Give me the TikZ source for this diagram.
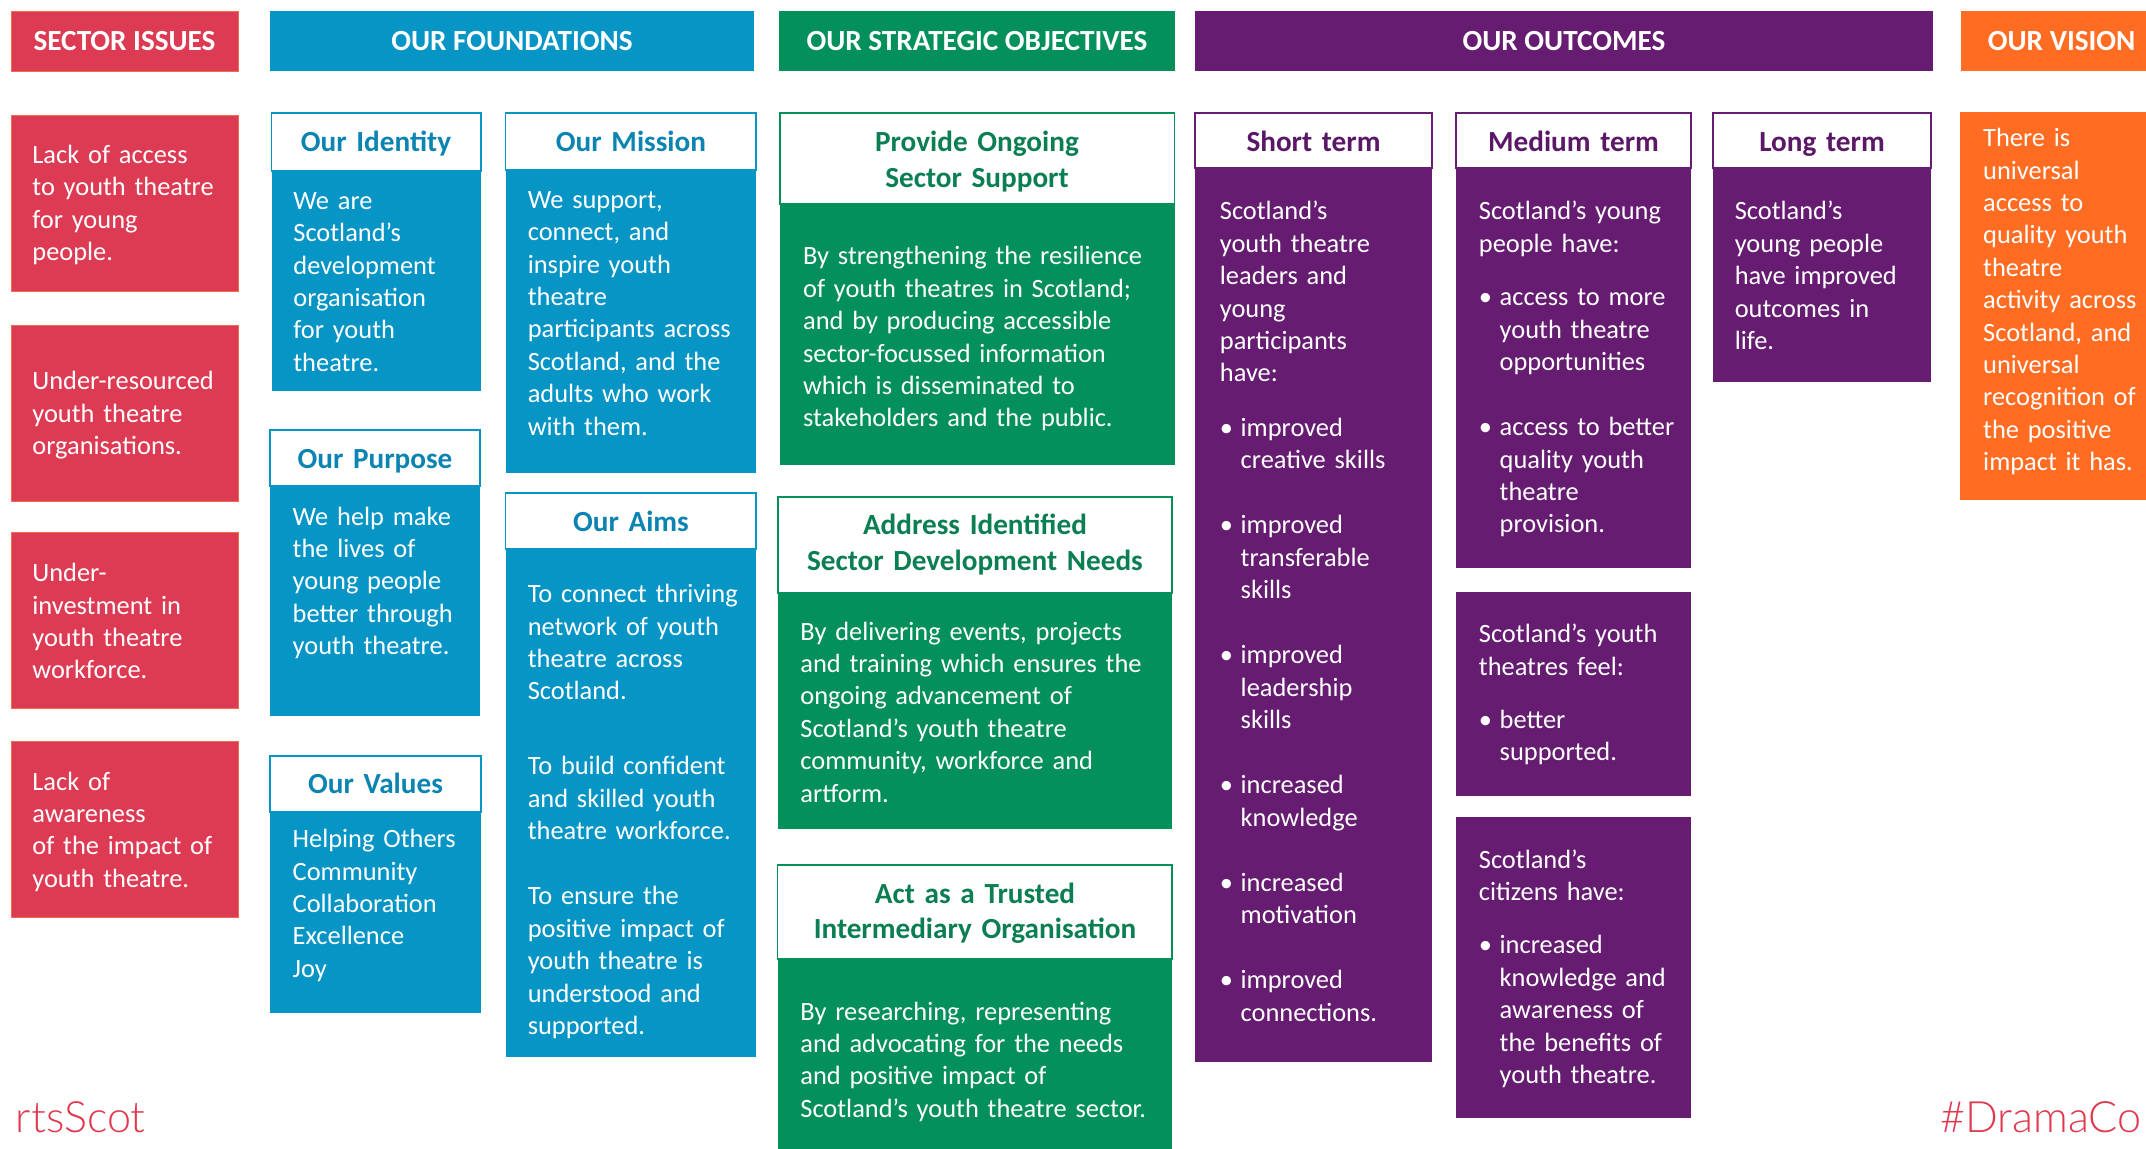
\documentclass[tikz,border=0pt]{standalone}
\usepackage{fontspec}
\setmainfont{Carlito}
\IfFontExistsTF{Lato Light}{\newfontfamily\tagfont{Lato Light}}{\newfontfamily\tagfont{Lato}}
\usetikzlibrary{fit}
\definecolor{cred}{HTML}{DD3B53}
\definecolor{credline}{HTML}{F06A50}
\definecolor{cblue}{HTML}{0795C6}
\definecolor{cbluet}{HTML}{0C84B2}
\definecolor{cgreen}{HTML}{04905A}
\definecolor{cgreent}{HTML}{0B7E52}
\definecolor{cpurple}{HTML}{651C71}
\definecolor{cpurplet}{HTML}{5A1866}
\definecolor{corange}{HTML}{FF6C22}
\definecolor{ctag}{HTML}{E0394F}
\newcommand{\bulit}{\makebox[10.4pt][l]{\textbullet}}
\newcommand{\bulin}{\hspace*{10.4pt}}
\begin{document}
\begin{tikzpicture}[x=0.5pt,y=-0.5pt,
  area/.style={fill=#1,draw=none,inner sep=0pt},
  redarea/.style={fill=cred,draw=credline,line width=0.4pt,inner sep=0pt},
  cap/.style={fill=white,draw=#1,line width=0.7pt,inner sep=0pt},
  bartxt/.style={text=white,font=\fontsize{14.6}{17.5}\selectfont\bfseries,inner sep=0pt,anchor=base},
  ttl/.style={text=#1,font=\fontsize{14.6}{17.8}\selectfont\bfseries,inner sep=0pt,anchor=base,text width=190pt,align=center},
  body/.style={text=white,font=\fontsize{13.2}{16.2}\selectfont,inner sep=0pt,anchor=base west,text width=200pt,align=left},
  tag/.style={text=ctag,font=\tagfont\fontsize{21.6}{26}\selectfont,inner sep=0pt}
]
\useasboundingbox (0,0) rectangle (2146,1149);
\clip (0,0) rectangle (2146,1149);
\fill[white] (0,0) rectangle (2146,1149);

% ---------- header bars ----------
\node[redarea, fit={(11,11)(238,71)}] (barSI) {};
\node[bartxt] (barSIt) at (124.5,51) {SECTOR ISSUES};
\node[area=cblue, fit={(270,11)(754,71)}] (barF) {};
\node[bartxt] (barFt) at (512,51) {OUR FOUNDATIONS};
\node[area=cgreen, fit={(779,11)(1174.5,71)}] (barS) {};
\node[bartxt] (barSt) at (977,51) {OUR STRATEGIC OBJECTIVES};
\node[area=cpurple, fit={(1195,11)(1933,71)}] (barO) {};
\node[bartxt] (barOt) at (1564,51) {OUR OUTCOMES};
\node[area=corange, fit={(1961,11)(2160,71)}] (barV) {};
\node[bartxt, anchor=base west] (barVt) at (1987.5,51) {OUR VISION};

% ---------- sector issues ----------
\node[redarea, fit={(11,115)(238,291)}] (r1) {};
\node[body] (r1t) at (32,163.3) {Lack of access\\to youth theatre\\for young\\people.};
\node[redarea, fit={(11,325)(238,501)}] (r2) {};
\node[body] (r2t) at (32,390) {Under-resourced\\youth theatre\\organisations.};
\node[redarea, fit={(11,532)(238,708)}] (r3) {};
\node[body] (r3t) at (32,581.7) {Under-\\investment in\\youth theatre\\workforce.};
\node[redarea, fit={(11,741)(238,917)}] (r4) {};
\node[body] (r4t) at (32,790) {Lack of\\awareness\\of the impact of\\youth theatre.};

% ---------- foundations ----------
\node[area=cblue, fit={(271.5,171)(481,391)}] (idB) {};
\node[cap=cblue, fit={(271.5,113)(481,171)}] (idH) {};
\node[ttl=cbluet] (idT) at (376,151.7) {Our Identity};
\node[body] (idX) at (293,209.3) {We are\\Scotland’s\\development\\organisation\\for youth\\theatre.};

\node[area=cblue, fit={(505.6,170)(756,473)}] (miB) {};
\node[cap=cblue, fit={(505.6,113)(756,170)}] (miH) {};
\node[ttl=cbluet] (miT) at (631,151.7) {Our Mission};
\node[body] (miX) at (527.4,208.3) {We support,\\connect, and\\inspire youth\\theatre\\participants across\\Scotland, and the\\adults who work\\with them.};

\node[area=cblue, fit={(270,486)(480,716)}] (puB) {};
\node[cap=cblue, fit={(270,430)(480,486)}] (puH) {};
\node[ttl=cbluet] (puT) at (375,468.3) {Our Purpose};
\node[body] (puX) at (292.3,525) {We help make\\the lives of\\young people\\better through\\youth theatre.};

\node[area=cblue, fit={(505.6,549)(756,1057)}] (aiB) {};
\node[cap=cblue, fit={(505.6,493)(756,549)}] (aiH) {};
\node[ttl=cbluet] (aiT) at (631,531.7) {Our Aims};
\node[body] (aiX) at (527.4,602.7) {To connect thriving\\network of youth\\theatre across\\Scotland.\\[21.3pt]To build confident\\and skilled youth\\theatre workforce.\\[16.4pt]To ensure the\\positive impact of\\youth theatre is\\understood and\\supported.};

\node[area=cblue, fit={(270,812)(481,1013)}] (vaB) {};
\node[cap=cblue, fit={(270,756)(481,812)}] (vaH) {};
\node[ttl=cbluet] (vaT) at (375.5,793) {Our Values};
\node[body] (vaX) at (292.3,847.7) {Helping Others\\Community\\Collaboration\\Excellence\\Joy};

% ---------- strategic objectives ----------
\node[area=cgreen, fit={(780,204)(1174.5,465)}] (s1B) {};
\node[cap=cgreen, fit={(780,113)(1174.5,204)}] (s1H) {};
\node[ttl=cgreent] (s1T) at (977,151.7) {Provide Ongoing\\Sector Support};
\node[body] (s1X) at (802.7,265) {By strengthening the resilience\\of youth theatres in Scotland;\\and by producing accessible\\sector-focussed information\\which is disseminated to\\stakeholders and the public.};

\node[area=cgreen, fit={(778,593)(1172,829)}] (s2B) {};
\node[cap=cgreen, fit={(778,497)(1172,593)}] (s2H) {};
\node[ttl=cgreent] (s2T) at (975,535) {Address Identified\\Sector Development Needs};
\node[body] (s2X) at (800,640) {By delivering events, projects\\and training which ensures the\\ongoing advancement of\\Scotland’s youth theatre\\community, workforce and\\artform.};

\node[area=cgreen, fit={(777.5,959)(1172,1160)}] (s3B) {};
\node[cap=cgreen, fit={(777.5,865)(1172,959)}] (s3H) {};
\node[ttl=cgreent] (s3T) at (975,903) {Act as a Trusted\\Intermediary Organisation};
\node[body] (s3X) at (800,1020) {By researching, representing\\and advocating for the needs\\and positive impact of\\Scotland’s youth theatre sector.};

% ---------- outcomes ----------
\node[area=cpurple, fit={(1195,168)(1432,1062)}] (stB) {};
\node[cap=cpurple, fit={(1195,113)(1432,168)}] (stH) {};
\node[ttl=cpurplet] (stT) at (1313.5,151.7) {Short term};
\node[body] (stX) at (1219.5,220) {Scotland’s\\youth theatre\\leaders and\\young\\participants\\have:\\[10.9pt]\bulit improved\\\bulin creative skills\\[16.4pt]\bulit improved\\\bulin transferable\\\bulin skills\\[16.4pt]\bulit improved\\\bulin leadership\\\bulin skills\\[16.4pt]\bulit increased\\\bulin knowledge\\[16.4pt]\bulit increased\\\bulin motivation\\[16.4pt]\bulit improved\\\bulin connections.};

\node[area=cpurple, fit={(1456,168)(1691,568)}] (m1B) {};
\node[cap=cpurple, fit={(1456,113)(1691,168)}] (mH) {};
\node[ttl=cpurplet] (mT) at (1573.5,151.7) {Medium term};
\node[body] (m1X) at (1478.5,220) {Scotland’s young\\people have:\\[10.5pt]\bulit access to more\\\bulin youth theatre\\\bulin opportunities\\[16.4pt]\bulit access to better\\\bulin quality youth\\\bulin theatre\\\bulin provision.};

\node[area=cpurple, fit={(1456,592)(1691,796)}] (m2B) {};
\node[body] (m2X) at (1478.5,642.7) {Scotland’s youth\\theatres feel:\\[10.5pt]\bulit better\\\bulin supported.};

\node[area=cpurple, fit={(1456,817)(1691,1118)}] (m3B) {};
\node[body] (m3X) at (1478.5,868) {Scotland’s\\citizens have:\\[10.5pt]\bulit increased\\\bulin knowledge and\\\bulin awareness of\\\bulin the benefits of\\\bulin youth theatre.};

\node[area=cpurple, fit={(1713,168)(1931,382)}] (ltB) {};
\node[cap=cpurple, fit={(1713,113)(1931,168)}] (ltH) {};
\node[ttl=cpurplet] (ltT) at (1822,151.7) {Long term};
\node[body] (ltX) at (1734.4,220) {Scotland’s\\young people\\have improved\\outcomes in\\life.};

% ---------- vision ----------
\node[area=corange, fit={(1959.5,112)(2160,500)}] (viB) {};
\node[body] (viX) at (1982.8,146.7) {There is\\universal\\access to\\quality youth\\theatre\\activity across\\Scotland, and\\universal\\recognition of\\the positive\\impact it has.};

% ---------- footer tags ----------
\node[tag, anchor=base east] (tagL) at (146,1132) {rtsScot};
\node[tag, anchor=base west] (tagR) at (1940,1132) {\#DramaCo};
\end{tikzpicture}
\end{document}
